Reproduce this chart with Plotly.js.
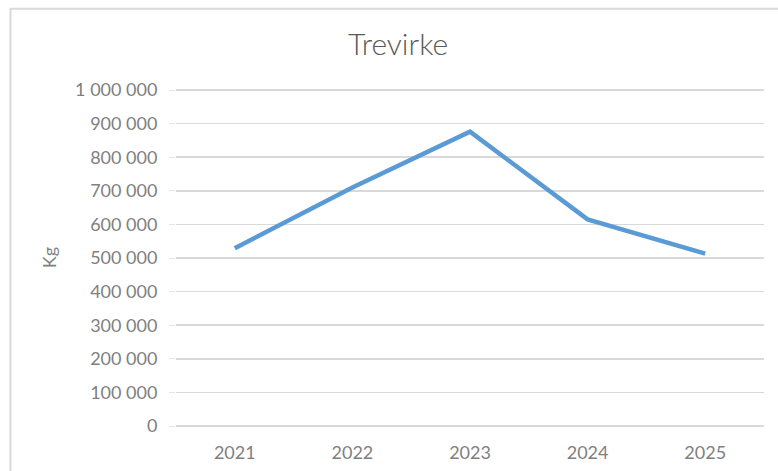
<!DOCTYPE html>
<html>
<head>
<meta charset="utf-8">
<script src="https://cdn.plot.ly/plotly-3.0.1.min.js"></script>
<style>
  html, body { margin: 0; padding: 0; background: #ffffff; }
  #chart { width: 778px; height: 471px; }
</style>
</head>
<body>
<div id="chart"></div>
<script>
const years = ["2021", "2022", "2023", "2024", "2025"];
const kgValues = [529000, 710000, 876000, 615000, 513000];
const yTicks = [0, 100000, 200000, 300000, 400000, 500000, 600000, 700000, 800000, 900000, 1000000];

const trace = {
  x: years,
  y: kgValues,
  type: "scatter",
  mode: "lines",
  line: { color: "#5b9bd5", width: 4.5 },
  hoverinfo: "x+y"
};

const fontFamily = "Lato, 'Open Sans', 'DejaVu Sans', sans-serif";

const layout = {
  width: 778,
  height: 471,
  margin: { l: 176, r: 14, t: 89, b: 45 },
  paper_bgcolor: "#ffffff",
  plot_bgcolor: "#ffffff",
  separators: ", ",
  showlegend: false,
  font: { family: fontFamily, color: "#7f7f7f", size: 18 },
  title: {
    text: "Trevirke",
    x: 0.3776,
    xref: "paper",
    xanchor: "center",
    y: 0.905,
    yanchor: "middle",
    font: { family: fontFamily, size: 30, color: "#595959", weight: 300 }
  },
  xaxis: {
    type: "category",
    range: [-0.5, 4.5],
    showgrid: false,
    zeroline: false,
    showline: false,
    ticks: "",
    tickfont: { family: fontFamily, size: 18, color: "#7f7f7f" },
    ticklabelstandoff: 14
  },
  yaxis: {
    range: [0, 1003000],
    tickvals: yTicks,
    tickformat: ",d",
    showgrid: true,
    gridcolor: "#d9d9d9",
    gridwidth: 1.5,
    zeroline: true,
    zerolinecolor: "#d9d9d9",
    zerolinewidth: 1.5,
    showline: false,
    ticks: "outside",
    ticklen: 6,
    tickcolor: "#e6e6e6",
    tickfont: { family: fontFamily, size: 18, color: "#7f7f7f" },
    ticklabelstandoff: 8,
    title: {
      text: "Kg",
      standoff: 13,
      font: { family: fontFamily, size: 18, color: "#7f7f7f" }
    }
  },
  shapes: [{
    type: "rect",
    xref: "paper",
    yref: "paper",
    x0: -0.2815,
    x1: 1.1,
    y0: -0.3,
    y1: 1.238,
    line: { color: "#d9d9d9", width: 2 },
    fillcolor: "rgba(0,0,0,0)",
    layer: "below"
  }]
};

Plotly.newPlot("chart", [trace], layout, { displayModeBar: false, staticPlot: true });
</script>
</body>
</html>
